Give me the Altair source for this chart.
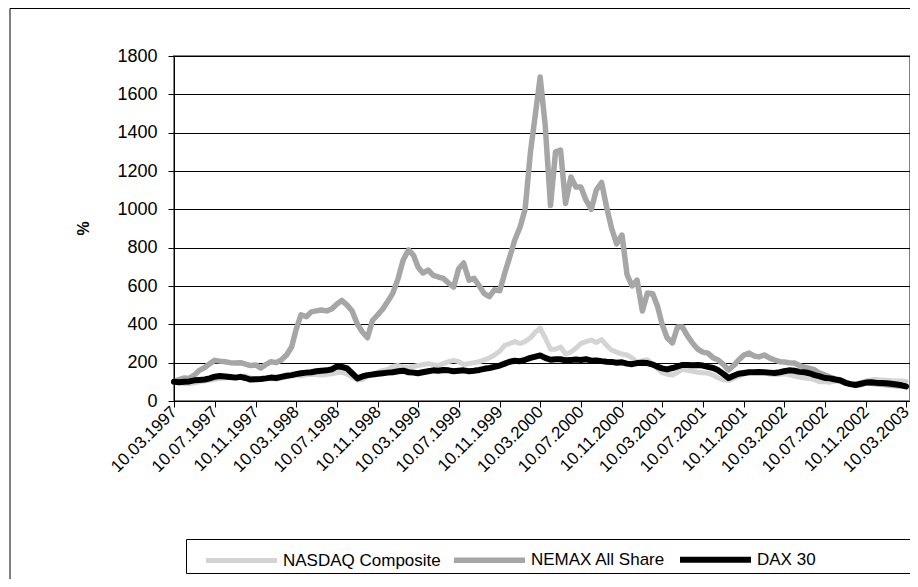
import altair as alt
import pandas as pd

series_names = ["NASDAQ Composite", "NEMAX All Share", "DAX 30"]
series_colors = ["#d4d4d4", "#a6a6a6", "#000000"]
series_widths = [5, 6, 7]

tick_dates = [(1997, 3), (1997, 7), (1997, 11), (1998, 3), (1998, 7), (1998, 11),
              (1999, 3), (1999, 7), (1999, 11), (2000, 3), (2000, 7), (2000, 11),
              (2001, 3), (2001, 7), (2001, 11), (2002, 3), (2002, 7), (2002, 11),
              (2003, 3)]

y_ticks = [0, 200, 400, 600, 800, 1000, 1200, 1400, 1600, 1800]

# observation dates: the 10th and 25th of each month, 10.03.1997 .. 10.03.2003
dates = []
yy, mm = 1997, 3
done = False
while not done:
    for dd in (10, 25):
        s = f"{yy:04d}-{mm:02d}-{dd:02d}"
        if s > "2003-03-10":
            done = True
            break
        dates.append(s)
    mm += 1
    if mm > 12:
        mm = 1
        yy += 1

nasdaq = [100, 95, 91, 90, 95, 100, 105, 108, 112, 118,
          120, 122, 125, 128, 130, 120, 115, 118, 117, 116,
          115, 120, 125, 130, 135, 132, 137, 140, 138, 135,
          140, 142, 148, 150, 140, 125, 110, 112, 128, 140,
          150, 160, 165, 180, 185, 178, 175, 180, 185, 190,
          195, 190, 185, 195, 205, 212, 205, 190, 195, 200,
          205, 215, 225, 240, 260, 290, 300, 310, 300, 310,
          330, 360, 380, 330, 270, 270, 282, 245, 255, 275,
          300, 310, 318, 305, 320, 290, 265, 255, 245, 240,
          225, 200, 210, 215, 190, 170, 148, 140, 135, 150,
          165, 160, 155, 150, 148, 145, 135, 120, 110, 108,
          118, 130, 140, 148, 152, 150, 148, 140, 138, 140,
          142, 138, 130, 125, 120, 118, 110, 100, 102, 98,
          105, 100, 92, 88, 85, 95, 105, 110, 112, 110,
          108, 106, 104, 105, 102]

nemax = [100, 112, 120, 118, 135, 160, 175, 195, 212, 208,
         205, 200, 198, 200, 192, 185, 188, 172, 190, 205,
         200, 214, 240, 282, 370, 450, 440, 465, 470, 475,
         470, 480, 505, 525, 500, 470, 400, 360, 330, 420,
         450, 480, 520, 563, 640, 736, 788, 760, 700, 668,
         683, 655, 647, 640, 615, 595, 690, 720, 630, 640,
         600, 560, 545, 580, 575, 668, 752, 840, 908, 1000,
         1300, 1500, 1690, 1440, 1020, 1300, 1309, 1030, 1169, 1117,
         1117, 1049, 1000, 1100, 1140, 1010, 900, 820, 866, 660,
         600, 631, 470, 563, 560, 490, 400, 330, 303, 386,
         386, 340, 300, 270, 255, 250, 225, 214, 190, 162,
         185, 214, 240, 250, 235, 230, 240, 225, 214, 205,
         203, 200, 198, 185, 177, 170, 162, 145, 136, 125,
         115, 105, 95, 88, 90, 85, 95, 92, 90, 88,
         85, 82, 80, 78, 75]

dax = [100, 98, 100, 102, 108, 110, 112, 118, 127, 130,
       128, 125, 122, 126, 120, 112, 114, 115, 118, 122,
       120, 126, 132, 135, 140, 145, 148, 150, 155, 158,
       160, 165, 180, 178, 170, 145, 118, 128, 135, 138,
       142, 145, 148, 150, 155, 158, 150, 148, 145, 150,
       155, 160, 158, 162, 160, 155, 158, 160, 155, 158,
       162, 168, 172, 178, 185, 195, 205, 210, 208, 215,
       225, 232, 238, 225, 215, 218, 218, 212, 214, 216,
       214, 218, 210, 212, 208, 205, 204, 200, 202, 195,
       192, 198, 200, 198, 190, 178, 170, 165, 172, 180,
       188, 188, 186, 188, 185, 178, 172, 160, 140, 120,
       132, 142, 146, 150, 150, 151, 150, 148, 146, 150,
       155, 160, 158, 152, 150, 145, 135, 128, 120, 118,
       112, 108, 95, 88, 83, 90, 96, 98, 95, 94,
       93, 90, 86, 82, 76]

rows = []
for name, vals in zip(series_names, [nasdaq, nemax, dax]):
    for d, v in zip(dates, vals):
        rows.append({"date": d, "series": name, "value": v})
df = pd.DataFrame(rows)

FONT = "Liberation Sans"

legend = alt.Legend(
    title=None, orient="none", legendX=29, legendY=465,
    direction="horizontal", columns=3, symbolType="stroke",
    symbolSize=5041, labelFontSize=17, labelFont=FONT, labelColor="black",
    labelOffset=3, columnPadding=2, padding=0, symbolStrokeWidth=5,
)

x_enc = alt.X(
    "date:T",
    scale=alt.Scale(type="utc", domain=[alt.DateTime(year=1997, month=3, date=10, utc=True),
                                        alt.DateTime(year=2003, month=3, date=22, utc=True)]),
    axis=alt.Axis(
        values=[alt.DateTime(year=y, month=m, date=10, utc=True) for y, m in tick_dates],
        format="%d.%m.%Y", labelAngle=-45, labelAlign="right", labelBaseline="middle",
        title=None, grid=False, tickSize=6, labelPadding=2, labelFlush=False,
        labelOverlap=False, labelFontSize=17,
    ),
)
y_enc = alt.Y(
    "value:Q",
    scale=alt.Scale(domain=[0, 1800], nice=False),
    axis=alt.Axis(
        values=y_ticks, format="d", title="%", titleFontWeight="bold", titleFontSize=16,
        titleX=-91, titleY=172, titleAlign="center", titleBaseline="middle", titleAngle=-90,
        grid=True, gridColor="black", gridWidth=1, tickSize=6, labelPadding=11,
        labelFontSize=18,
    ),
)
color_enc = alt.Color("series:N", scale=alt.Scale(domain=series_names, range=series_colors),
                      sort=series_names, legend=legend)
width_enc = alt.StrokeWidth("series:N", scale=alt.Scale(domain=series_names, range=series_widths),
                            sort=series_names, legend=legend)

lines = []
for name in series_names:
    lines.append(
        alt.Chart(df).transform_filter(alt.datum.series == name)
        .mark_line(strokeJoin="round", strokeCap="round")
        .encode(x=x_enc, y=y_enc, color=color_enc, strokeWidth=width_enc)
    )

deco = pd.DataFrame({"a": [0]})
outer_border = alt.Chart(deco).mark_rect(fillOpacity=0, stroke="black", strokeWidth=1).encode(
    x=alt.value(-164), x2=alt.value(900), y=alt.value(-47.5), y2=alt.value(700)
)
legend_box = alt.Chart(deco).mark_rect(fillOpacity=0, stroke="black", strokeWidth=1).encode(
    x=alt.value(12.5), x2=alt.value(900), y=alt.value(483.5), y2=alt.value(517.5)
)

chart = alt.layer(outer_border, legend_box, *lines).properties(
    width=736, height=345,
    autosize=alt.AutoSizeParams(type="none"),
    padding={"left": 166, "top": 48, "right": 0, "bottom": 178},
    background="white",
).configure(font=FONT).configure_view(
    stroke="#808080", strokeWidth=2
).configure_axis(
    labelFont=FONT, labelColor="black", domainColor="black",
    tickColor="black", domainWidth=1, tickWidth=1, titleFont=FONT, titleColor="black",
)

chart.save("out.html", embed_options={"renderer": "svg", "actions": False})
